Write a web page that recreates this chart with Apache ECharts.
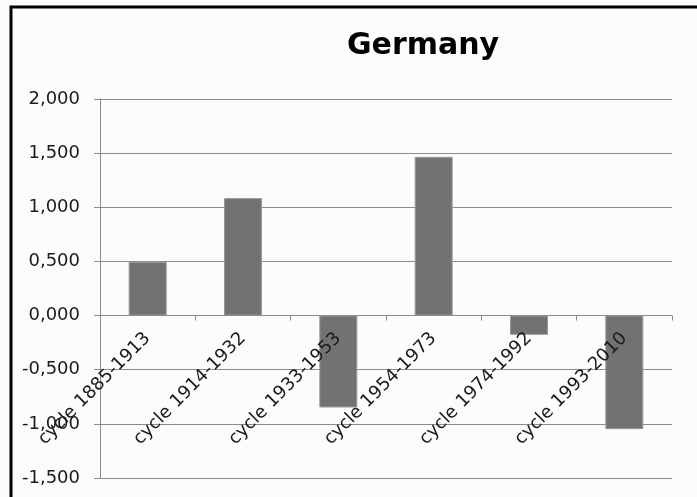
<!DOCTYPE html>
<html>
<head>
<meta charset="utf-8">
<script src="https://cdn.jsdelivr.net/npm/echarts@6/dist/echarts.min.js"></script>
<style>
html,body{margin:0;padding:0;background:#fcfcfc;}
#chart{width:697px;height:497px;}
</style>
</head>
<body>
<div id="chart"></div>
<script>
const titleText = "Germany";
const categories = ["cycle 1885-1913","cycle 1914-1932","cycle 1933-1953","cycle 1954-1973","cycle 1974-1992","cycle 1993-2010"];
const values = [0.497, 1.085, -0.849, 1.466, -0.178, -1.049];
const yMin = -1.5, yMax = 2, yStep = 0.5;

const chart = echarts.init(document.getElementById('chart'), null, {renderer:'canvas'});
const fontFam = '"DejaVu Sans", sans-serif';
const gridTop = 99, gridBottom = 19, H = 497;
const option = {
  backgroundColor: '#fcfcfc',
  animation: false,
  graphic: [
    {type:'rect', shape:{x:11, y:7, width:800, height:600}, style:{fill:'none', stroke:'#000', lineWidth:3}, z:100},
    {type:'text', x:423, y:46, style:{text:titleText, font:'bold 30px "DejaVu Sans", sans-serif', fill:'#000', textAlign:'center', textVerticalAlign:'middle'}}
  ],
  grid: {left:100, right:25, top:gridTop, bottom:gridBottom, containLabel:false, outerBoundsMode:'none'},
  xAxis: {
    type:'category', data:categories, position:'bottom', offset:0, z:5,
    axisLine:{onZero:false, lineStyle:{color:'#8c8c8c', width:1}},
    axisTick:{show:true, alignWithLabel:false, length:5, lineStyle:{color:'#8c8c8c'}},
    axisLabel:{rotate:45, interval:0, margin:20, color:'#1a1a1a', fontSize:18, fontFamily:fontFam, hideOverlap:false},
    splitLine:{show:false}
  },
  yAxis: {
    type:'value', min:yMin, max:yMax, interval:yStep,
    axisLine:{show:true, lineStyle:{color:'#8c8c8c', width:1}},
    axisTick:{show:true, length:6, inside:false, lineStyle:{color:'#8c8c8c'}},
    axisLabel:{margin:20, color:'#1a1a1a', fontSize:18, fontFamily:fontFam,
      formatter: v => v.toFixed(3).replace('.', ',')},
    splitLine:{show:true, lineStyle:{color:'#8c8c8c', width:1}}
  },
  series: [{
    type:'bar', data:values, barWidth:38,
    itemStyle:{color:'#727272', borderColor:'#9a9a9a', borderWidth:1}
  }]
};
chart.setOption(option);
// move the category axis onto the zero line, using the library's own value scale
const zeroY = chart.convertToPixel({yAxisIndex:0}, 0);
const bottomY = chart.convertToPixel({yAxisIndex:0}, yMin);
chart.setOption({xAxis:{offset: -(bottomY - zeroY)}});
</script>
</body>
</html>
